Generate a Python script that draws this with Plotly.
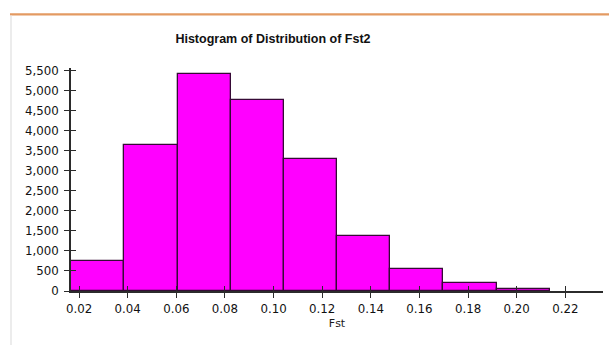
import numpy as np
import plotly.graph_objects as go

# Histogram of Fst2: bin edges and counts per bin
bin_edges = [0.0167, 0.0386, 0.0605, 0.0823, 0.1042, 0.1261,
             0.1480, 0.1698, 0.1917, 0.2136, 0.2355]
counts = [740, 3640, 5400, 4760, 3280, 1370, 550, 190, 45, 0]

x_ticks = [0.02, 0.04, 0.06, 0.08, 0.10, 0.12, 0.14, 0.16, 0.18, 0.20, 0.22]
y_ticks = list(range(0, 5501, 500))

chart_title = "Histogram of Distribution of Fst2"
x_title = "Fst"

W, H = 609, 345
ML, MR, MT, MB = 71, 6, 68, 54

edges = np.array(bin_edges)
values = np.array(counts)
centers = (edges[:-1] + edges[1:]) / 2
widths = np.diff(edges)
filled = values > 0  # empty bins get no bar outline

y_max = 5560
axis_color = "#2b2b2b"
tick_font = dict(family="DejaVu Sans", size=11.8, color="#111111")

fig = go.Figure()
fig.add_trace(go.Bar(
    x=centers[filled], y=values[filled], width=widths[filled],
    marker=dict(color="#ff00ff", line=dict(color="#360a36", width=1.3)),
    showlegend=False, hoverinfo="x+y",
))
# empty trace that carries the overlay axes used for the inner half of each tick
fig.add_trace(go.Scatter(x=[None], y=[None], xaxis="x2", yaxis="y2",
                         showlegend=False, hoverinfo="skip"))

common = dict(showgrid=False, zeroline=False, linecolor=axis_color, linewidth=1.6,
              tickcolor=axis_color, tickwidth=1.4, ticklen=5)

fig.update_layout(
    width=W, height=H,
    margin=dict(l=ML, r=MR, t=MT, b=MB, pad=0),
    paper_bgcolor="white", plot_bgcolor="white",
    bargap=0,
    title=dict(text="<b>" + chart_title + "</b>", xref="container", yref="container",
               x=273 / W, xanchor="center", y=1 - 39 / H, yanchor="middle",
               font=dict(family="Liberation Sans", size=12.5, color="#111111")),
    xaxis=dict(range=[bin_edges[0], bin_edges[-1]], tickvals=x_ticks, tickformat=".2f",
               ticks="outside", showline=True, tickfont=tick_font,
               ticklabelstandoff=1,
               title=dict(text=x_title, standoff=4,
                          font=dict(family="DejaVu Sans", size=11, color="#1a1a1a")),
               **common),
    yaxis=dict(range=[0, y_max], tickvals=y_ticks, tickformat=",d",
               ticks="outside", showline=True, tickfont=tick_font,
               ticklabelstandoff=3, **common),
    xaxis2=dict(overlaying="x", anchor="y2", side="bottom",
                range=[bin_edges[0], bin_edges[-1]], tickvals=x_ticks,
                ticks="inside", showticklabels=False, showline=False,
                showgrid=False, zeroline=False,
                tickcolor=axis_color, tickwidth=1.4, ticklen=5),
    yaxis2=dict(overlaying="y", anchor="x2", side="left",
                range=[0, y_max], tickvals=y_ticks,
                ticks="inside", showticklabels=False, showline=False,
                showgrid=False, zeroline=False,
                tickcolor=axis_color, tickwidth=1.4, ticklen=5),
)

# frame decorations: orange rule across the top and a faint left border
plot_w = W - ML - MR
plot_h = H - MT - MB


def px_x(p):
    return (p - ML) / plot_w


def px_y(p):
    return (H - MB - p) / plot_h


fig.add_shape(type="line", xref="paper", yref="paper",
              x0=px_x(10), x1=px_x(W + 2), y0=px_y(14.3), y1=px_y(14.3),
              line=dict(color="#e39a62", width=2.2))
fig.add_shape(type="line", xref="paper", yref="paper",
              x0=px_x(11), x1=px_x(11), y0=px_y(15.5), y1=px_y(H + 2),
              line=dict(color="#e6e6e6", width=1.5))

fig.write_html("out.html")
